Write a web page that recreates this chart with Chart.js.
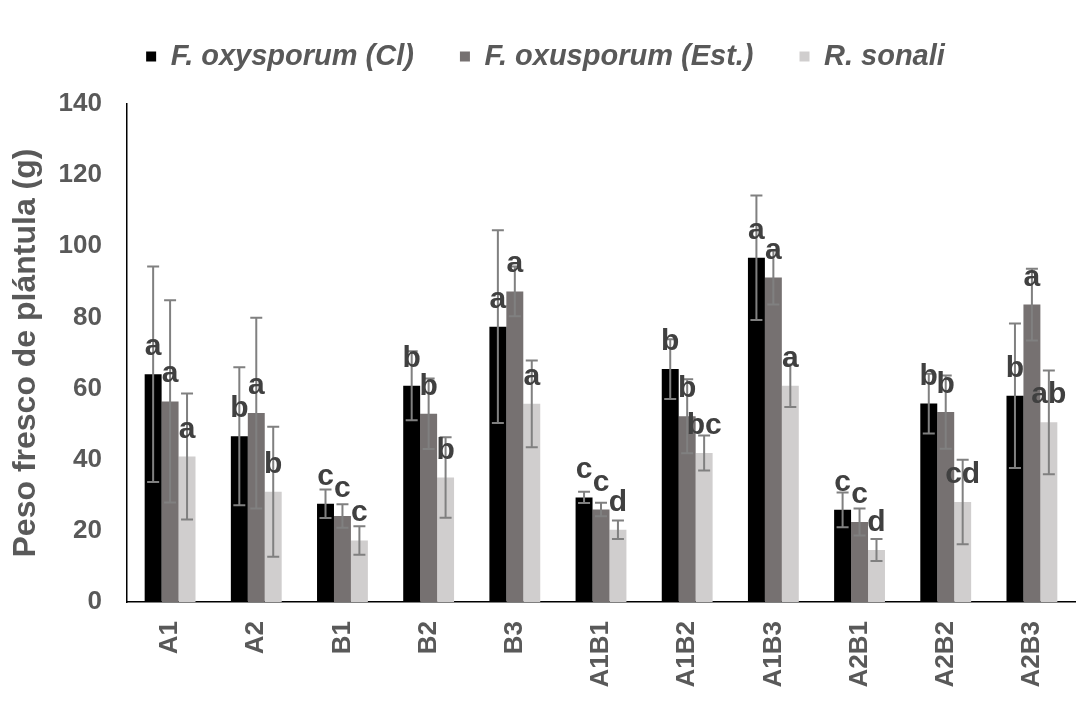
<!DOCTYPE html>
<html>
<head>
<meta charset="utf-8">
<title>Peso fresco de plántula</title>
<script src="https://cdn.jsdelivr.net/npm/chart.js@4.4.1/dist/chart.umd.min.js"></script>
<style>
  html, body { margin: 0; padding: 0; background: #fff; }
  #wrap { width: 1091px; height: 702px; }
</style>
</head>
<body>
<div id="wrap"><canvas id="chart" width="1091" height="702"></canvas></div>
<script>
const FONT = "'Liberation Sans', Arial, sans-serif";

const categories = ["A1", "A2", "B1", "B2", "B3", "A1B1", "A1B2", "A1B3", "A2B1", "A2B2", "A2B3"];

// medias
const oxyCl = [64.0, 46.6, 27.6, 60.8, 77.4, 29.4, 65.5, 96.8, 25.9, 55.8, 58.0];
const oxuEst = [56.4, 53.1, 24.2, 52.9, 87.3, 26.0, 52.2, 91.2, 22.5, 53.4, 83.6];
const rSonali = [40.9, 31.0, 17.3, 35.0, 55.7, 20.3, 41.9, 60.8, 14.6, 28.1, 50.5];

// desviación estándar
const oxyClErr = [30.3, 19.4, 4.0, 9.7, 27.1, 1.6, 8.4, 17.5, 4.9, 8.4, 20.3];
const oxuEstErr = [28.4, 26.8, 3.3, 9.9, 7.0, 1.9, 10.4, 7.6, 3.8, 10.3, 10.1];
const rSonaliErr = [17.7, 18.3, 4.0, 11.3, 12.2, 2.6, 4.9, 6.0, 3.1, 11.9, 14.6];

// letras de significancia
const oxyClLet = ["a", "b", "c", "b", "a", "c", "b", "a", "c", "b", "b"];
const oxuEstLet = ["a", "a", "c", "b", "a", "c", "b", "a", "c", "b", "a"];
const rSonaliLet = ["a", "b", "c", "b", "a", "d", "bc", "a", "d", "cd", "ab"];

const yTicks = [0, 20, 40, 60, 80, 100, 120, 140];

// barras de error
const errorBars = {
  id: "errorBars",
  afterDatasetsDraw(chart) {
    const ctx = chart.ctx;
    const y = chart.scales.y;
    ctx.save();
    ctx.strokeStyle = "#808080";
    ctx.lineWidth = 2;
    chart.data.datasets.forEach((ds, i) => {
      chart.getDatasetMeta(i).data.forEach((bar, j) => {
        const v = ds.data[j];
        const e = ds.errors[j];
        const top = y.getPixelForValue(v + e);
        const bot = y.getPixelForValue(v - e);
        ctx.beginPath();
        ctx.moveTo(bar.x, top);
        ctx.lineTo(bar.x, bot);
        ctx.moveTo(bar.x - 6, top);
        ctx.lineTo(bar.x + 6, top);
        ctx.moveTo(bar.x - 6, bot);
        ctx.lineTo(bar.x + 6, bot);
        ctx.stroke();
      });
    });
    ctx.restore();
  },
};

// letras sobre cada barra
const letterLabels = {
  id: "letterLabels",
  afterDraw(chart) {
    const ctx = chart.ctx;
    ctx.save();
    ctx.fillStyle = "#404040";
    ctx.font = "bold 30px " + FONT;
    ctx.textAlign = "center";
    ctx.textBaseline = "alphabetic";
    chart.data.datasets.forEach((ds, i) => {
      chart.getDatasetMeta(i).data.forEach((bar, j) => {
        ctx.fillText(ds.letters[j], bar.x, bar.y - 19);
      });
    });
    ctx.restore();
  },
};

// espacio extra debajo de la leyenda y un pequeño corrimiento a la derecha
const legendMargin = {
  id: "legendMargin",
  beforeInit(chart) {
    const fitValue = chart.legend.fit;
    chart.legend.fit = function fit() {
      fitValue.bind(chart.legend)();
      return (this.height += 23);
    };
  },
  afterLayout(chart) {
    chart.legend.left += 8;
    chart.legend.right += 8;
  },
};

new Chart(document.getElementById("chart"), {
  type: "bar",
  data: {
    labels: categories,
    datasets: [
      {
        label: "F. oxysporum (Cl)",
        data: oxyCl,
        errors: oxyClErr,
        letters: oxyClLet,
        backgroundColor: "#000000",
      },
      {
        label: "F. oxusporum (Est.)",
        data: oxuEst,
        errors: oxuEstErr,
        letters: oxuEstLet,
        backgroundColor: "#767171",
      },
      {
        label: "R. sonali",
        data: rSonali,
        errors: rSonaliErr,
        letters: rSonaliLet,
        backgroundColor: "#d0cece",
      },
    ],
  },
  options: {
    responsive: false,
    animation: false,
    layout: { padding: { top: -4, left: 0, right: 16, bottom: 0 } },
    datasets: {
      bar: { categoryPercentage: 0.59, barPercentage: 1.0 },
    },
    plugins: {
      tooltip: { enabled: false },
      legend: {
        position: "top",
        labels: {
          boxWidth: 10,
          boxHeight: 10,
          padding: 46,
          color: "#595959",
          font: { family: FONT, size: 29, weight: "bold", style: "italic" },
        },
      },
    },
    scales: {
      x: {
        grid: { display: false, drawTicks: false },
        border: { display: true, color: "#000000", width: 1.5 },
        ticks: {
          minRotation: 90,
          maxRotation: 90,
          padding: 19,
          color: "#595959",
          font: { family: FONT, size: 26, weight: "bold" },
        },
        afterFit(scale) {
          scale.height = 100;
        },
      },
      y: {
        min: 0,
        max: 140,
        grid: { display: false, drawTicks: false },
        border: { display: true, color: "#000000", width: 1.5 },
        afterBuildTicks(scale) {
          scale.ticks = yTicks.map((v) => ({ value: v }));
        },
        ticks: {
          padding: 25,
          color: "#595959",
          font: { family: FONT, size: 26, weight: "bold" },
        },
        title: {
          display: true,
          text: "Peso fresco de plántula (g)",
          color: "#595959",
          padding: { top: 7, bottom: 0 },
          font: { family: FONT, size: 32, weight: "bold" },
        },
        afterFit(scale) {
          scale.width = 127;
        },
      },
    },
  },
  plugins: [errorBars, letterLabels, legendMargin],
});
</script>
</body>
</html>
